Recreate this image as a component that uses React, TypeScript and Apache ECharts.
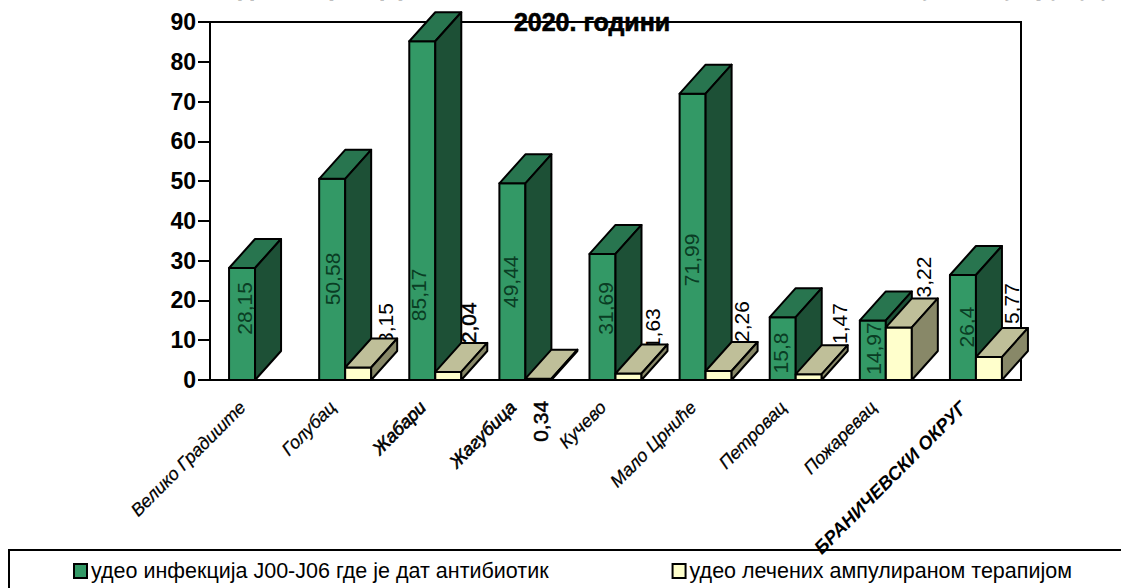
import React, { useEffect, useRef } from "react";
import * as echarts from "echarts";

const categories = ["Велико Градиште", "Голубац", "Жабари", "Жагубица", "Кучево", "Мало Црниће", "Петровац", "Пожаревац", "БРАНИЧЕВСКИ ОКРУГ"];
const antibioticShare = [28.15, 50.58, 85.17, 49.44, 31.69, 71.99, 15.8, 14.97, 26.4];
const ampouleShare = [0, 3.15, 2.04, 0.34, 1.63, 2.26, 1.47, 13.22, 5.77];
const yTicks = { min: 0, max: 90, interval: 10 };
const seriesNames = ["удео инфекција J00-J06 где је дат антибиотик", "удео лечених ампулираном терапијом"];
const titleLine1 = "Удео инфекција J00-J06 са антибиотиком и лечених ампулама у групу у";
const titleLine2 = "2020. години";

// Where the rotated value labels sit: along the value axis (axis units) and across the category (px from its centre).
const greenLabelAt = [18, 25.4, 21.4, 24.7, 18, 30.2, 6.8, 7.9, 13.3];
const greenLabelDx = [-11, -13, -16.6, -14.7, -10, -14, -15, -12, -9];
const yellowLabelAt = [0, 14.2, 14.4, -10.4, 12.9, 14.7, 14.2, 24.4, 19.2];
const yellowLabelDx = [0, 40, 33, 15, 37, 36, 44, 38, 36];
const heavyYellowLabels = [2, 3];

const DX = 26;
const DY = 29;
const BAR_W = 26;
const FONT = '"Liberation Sans", Arial, sans-serif';

function box(x: number, y: number, base: number, w: number, c: { front: string; top: string; side: string }, mid: any[], first: any[]) {
  const stroke = { stroke: "#000", lineWidth: 2, lineJoin: "round" };
  return [
    ...first,
    { type: "rect", shape: { x, y, width: w, height: base - y }, style: { fill: c.front, ...stroke } },
    ...mid,
    { type: "polygon", shape: { points: [[x, y], [x + DX, y - DY], [x + w + DX, y - DY], [x + w, y]] }, style: { fill: c.top, ...stroke } },
    { type: "polygon", shape: { points: [[x + w, y], [x + w + DX, y - DY], [x + w + DX, base - DY], [x + w, base]] }, style: { fill: c.side, ...stroke } },
  ];
}

function vText(text: string, x: number, y: number, fill: string, heavy = false) {
  return {
    type: "text",
    x,
    y,
    rotation: Math.PI / 2,
    style: {
      text,
      fill,
      font: `21px ${FONT}`,
      align: "center",
      verticalAlign: "middle",
      ...(heavy ? { stroke: "#000", lineWidth: 0.5 } : {}),
    },
  };
}

const comma = (v: number) => String(v).replace(".", ",");

export default function App() {
  const ref = useRef<HTMLDivElement>(null);
  useEffect(() => {
    document.body.style.margin = "0";
    const chart = echarts.init(ref.current!, null, { renderer: "svg" });
    const titleStyle = { fontFamily: FONT, fontSize: 25, fontWeight: "bold", color: "#000", textBorderColor: "#000", textBorderWidth: 0.6 };
    chart.setOption({
      animation: false,
      backgroundColor: "#fff",
      title: [
        { text: titleLine1, left: 664, top: -32, textAlign: "center", textStyle: titleStyle },
        { text: titleLine2, left: 587, top: 4, textAlign: "center", textStyle: titleStyle },
      ],
      grid: { left: 210, right: 100, top: 22, bottom: 208, show: true, borderColor: "#000", borderWidth: 2, backgroundColor: "transparent" },
      xAxis: {
        type: "category",
        data: categories,
        boundaryGap: true,
        axisTick: { show: false },
        axisLine: { lineStyle: { color: "#000", width: 2 } },
        axisLabel: {
          interval: 0,
          rotate: 45,
          margin: 24,
          padding: [0, 9, 17, 0],
          color: "#000",
          fontFamily: FONT,
          fontSize: 18,
          fontStyle: "italic",
          formatter: (v: string, i: number) =>
            i === 8 ? `{b|${v}}` : i === 2 || i === 3 ? `{h|${v}}` : `{r|${v}}`,
          rich: {
            b: { fontFamily: FONT, fontSize: 18.5, fontStyle: "italic", fontWeight: "bold", color: "#000" },
            h: { fontFamily: FONT, fontSize: 18, fontStyle: "italic", color: "#000", textBorderColor: "#000", textBorderWidth: 0.6 },
            r: { fontFamily: FONT, fontSize: 18, fontStyle: "italic", color: "#000", textBorderColor: "#000", textBorderWidth: 0.25 },
          },
        },
      },
      yAxis: {
        type: "value",
        ...yTicks,
        splitLine: { show: false },
        axisTick: { show: true, length: 12, lineStyle: { color: "#000", width: 2 } },
        axisLine: { show: true, lineStyle: { color: "#000", width: 2 } },
        axisLabel: { color: "#000", fontFamily: FONT, fontSize: 23, fontWeight: "bold", margin: 14 },
      },
      legend: {
        left: 68,
        top: 555,
        itemWidth: 13,
        itemHeight: 14,
        itemGap: 123,
        icon: "rect",
        selectedMode: false,
        textStyle: { fontFamily: FONT, fontSize: 21.5, color: "#000", padding: [0, 0, 0, -1] },
        data: [
          { name: seriesNames[0], itemStyle: { color: "#339966", borderColor: "#000", borderWidth: 2 } },
          { name: seriesNames[1], itemStyle: { color: "#FFFFCC", borderColor: "#000", borderWidth: 2 } },
        ],
      },
      graphic: [
        { type: "rect", z: -1, shape: { x: 9, y: 550, width: 1130, height: 60 }, style: { fill: "#fff", stroke: "#000", lineWidth: 2 } },
      ],
      series: [
        {
          type: "custom",
          name: seriesNames[0],
          itemStyle: { color: "#339966" },
          encode: { x: 0, y: 1 },
          data: antibioticShare.map((v, i) => [i, v]),
          renderItem: (_p: any, api: any) => {
            const i = api.value(0);
            const v = api.value(1);
            const [cx, y] = api.coord([i, v]);
            const [, base] = api.coord([i, 0]);
            const [, ly] = api.coord([i, greenLabelAt[i]]);
            const label = vText(comma(v), cx + greenLabelDx[i], ly, "#0a3d24");
            return {
              type: "group",
              children: box(cx - BAR_W, y, base, BAR_W, { front: "#339966", top: "#28754F", side: "#1D5036" }, [label], []),
            };
          },
        },
        {
          type: "custom",
          name: seriesNames[1],
          itemStyle: { color: "#FFFFCC" },
          encode: { x: 0, y: 1 },
          data: ampouleShare.map((v, i) => [i, v]),
          renderItem: (_p: any, api: any) => {
            const i = api.value(0);
            const v = api.value(1);
            if (!v) return { type: "group", children: [] };
            const [cx, y] = api.coord([i, v]);
            const [, base] = api.coord([i, 0]);
            const [, ly] = api.coord([i, yellowLabelAt[i]]);
            const label = vText(comma(v), cx + yellowLabelDx[i], ly, "#000", heavyYellowLabels.includes(i));
            return {
              type: "group",
              children: box(cx, y, base, BAR_W, { front: "#FFFFCC", top: "#BFBF99", side: "#888868" }, [], [label]),
            };
          },
        },
      ],
    });
    return () => chart.dispose();
  }, []);
  return <div ref={ref} style={{ width: 1121, height: 588, overflow: "hidden" }} />;
}
